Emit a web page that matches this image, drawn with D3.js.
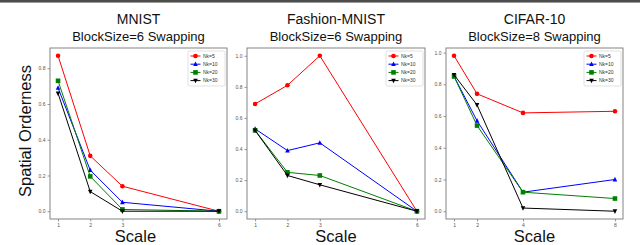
<!DOCTYPE html>
<html>
<head>
<meta charset="utf-8">
<script src="https://cdn.jsdelivr.net/npm/d3@7"></script>
<style>
  body { margin: 0; background: #fff; }
  svg { display: block; font-family: "Liberation Sans", Arial, sans-serif; }
</style>
</head>
<body>
<div id="chart"></div>
<script>
// data
let seriesNames = ["Nk=5", "Nk=10", "Nk=20", "Nk=30"];
let seriesColors = ["#ff0000", "#0000ff", "#008000", "#000000"];
let seriesMarkers = ["circle", "triUp", "square", "triDown"];

let mnistTitle = "MNIST";
let mnistSub = "BlockSize=6 Swapping";
let mnistX = [1, 2, 3, 6];
let mnistNk5 = [0.87, 0.31, 0.14, 0.0];
let mnistNk10 = [0.69, 0.23, 0.05, 0.0];
let mnistNk20 = [0.73, 0.195, 0.01, 0.0];
let mnistNk30 = [0.66, 0.11, 0.0, 0.0];
let mnistYTicks = [0.0, 0.2, 0.4, 0.6, 0.8];

let fashionTitle = "Fashion-MNIST";
let fashionSub = "BlockSize=6 Swapping";
let fashionX = [1, 2, 3, 6];
let fashionNk5 = [0.69, 0.81, 1.0, 0.0];
let fashionNk10 = [0.53, 0.39, 0.44, 0.0];
let fashionNk20 = [0.52, 0.25, 0.23, 0.0];
let fashionNk30 = [0.52, 0.23, 0.17, 0.0];
let fashionYTicks = [0.0, 0.2, 0.4, 0.6, 0.8, 1.0];

let cifarTitle = "CIFAR-10";
let cifarSub = "BlockSize=8 Swapping";
let cifarX = [1, 2, 4, 8];
let cifarNk5 = [0.98, 0.74, 0.62, 0.63];
let cifarNk10 = [0.85, 0.57, 0.12, 0.20];
let cifarNk20 = [0.85, 0.54, 0.12, 0.08];
let cifarNk30 = [0.86, 0.67, 0.02, 0.0];
let cifarYTicks = [0.0, 0.2, 0.4, 0.6, 0.8, 1.0];

let panels = [
  { title: mnistTitle, sub: mnistSub, x: mnistX, ys: [mnistNk5, mnistNk10, mnistNk20, mnistNk30], yTicks: mnistYTicks, left: 50, right: 227 },
  { title: fashionTitle, sub: fashionSub, x: fashionX, ys: [fashionNk5, fashionNk10, fashionNk20, fashionNk30], yTicks: fashionYTicks, left: 247, right: 425 },
  { title: cifarTitle, sub: cifarSub, x: cifarX, ys: [cifarNk5, cifarNk10, cifarNk20, cifarNk30], yTicks: cifarYTicks, left: 446, right: 623 }
];

let W = 640, H = 245;
let plotTop = 48, plotBottom = 219;

let svg = d3.select("#chart").append("svg")
  .attr("width", W)
  .attr("height", H);

// dark strip along the top edge
svg.append("rect").attr("x", 0).attr("y", 0).attr("width", W).attr("height", 2).attr("fill", "#4d4d4d");
svg.append("rect").attr("x", 0).attr("y", 2).attr("width", W).attr("height", 1).attr("fill", "#9a9a9a");

/**
 * Draw one marker shape.
 */
function marker(g, kind, cx, cy, color) {
  let s = 2.3;
  if (kind === "circle") {
    g.append("circle").attr("cx", cx).attr("cy", cy).attr("r", s).attr("fill", color);
  } else if (kind === "square") {
    g.append("rect").attr("x", cx - s).attr("y", cy - s).attr("width", 2 * s).attr("height", 2 * s).attr("fill", color);
  } else if (kind === "triUp") {
    g.append("path").attr("d", `M${cx},${cy - s - 0.4}L${cx + s},${cy + s - 0.4}L${cx - s},${cy + s - 0.4}Z`).attr("fill", color);
  } else {
    g.append("path").attr("d", `M${cx},${cy + s + 0.4}L${cx + s},${cy - s + 0.4}L${cx - s},${cy - s + 0.4}Z`).attr("fill", color);
  }
}

panels.forEach((p, pi) => {
  let xMin = d3.min(p.x), xMax = d3.max(p.x);
  let xPad = (xMax - xMin) * 0.05;
  let allY = p.ys.flat();
  let yMin = d3.min(allY), yMax = d3.max(allY);
  let yPad = (yMax - yMin) * 0.05;

  let x = d3.scaleLinear().domain([xMin - xPad, xMax + xPad]).range([p.left, p.right]);
  let y = d3.scaleLinear().domain([yMin - yPad, yMax + yPad]).range([plotBottom, plotTop]);

  let g = svg.append("g");

  // axes
  let xAxis = d3.axisBottom(x).tickValues(p.x).tickFormat(d3.format("d")).tickSizeInner(2.5).tickSizeOuter(0).tickPadding(2);
  let yAxis = d3.axisLeft(y).tickValues(p.yTicks).tickFormat(d3.format(".1f")).tickSizeInner(2.5).tickSizeOuter(0).tickPadding(2);
  let gx = g.append("g").attr("transform", `translate(0,${plotBottom})`).call(xAxis);
  let gy = g.append("g").attr("transform", `translate(${p.left},0)`).call(yAxis);
  [gx, gy].forEach(a => {
    a.select(".domain").remove();
    a.selectAll("line").attr("stroke", "#555").attr("stroke-width", 0.6);
    a.selectAll("text").attr("fill", "#555").style("font-size", "5px");
  });

  // frame
  g.append("rect")
    .attr("x", p.left).attr("y", plotTop)
    .attr("width", p.right - p.left).attr("height", plotBottom - plotTop)
    .attr("fill", "none").attr("stroke", "#777").attr("stroke-width", 0.9);

  // lines
  let line = d3.line().x((d, i) => x(p.x[i])).y(d => y(d));
  p.ys.forEach((vals, si) => {
    g.append("path").datum(vals)
      .attr("d", line)
      .attr("fill", "none")
      .attr("stroke", seriesColors[si])
      .attr("stroke-width", 1);
    vals.forEach((v, i) => marker(g, seriesMarkers[si], x(p.x[i]), y(v), seriesColors[si]));
  });

  // legend
  let lg = g.append("g").attr("transform", `translate(${p.right - 39},${plotTop + 3})`);
  lg.append("rect").attr("x", 0).attr("y", 0).attr("width", 37).attr("height", 35)
    .attr("rx", 1.5).attr("fill", "#fff").attr("stroke", "#ccc").attr("stroke-width", 0.6);
  seriesNames.forEach((n, si) => {
    let ly = 5 + si * 8.2;
    lg.append("line").attr("x1", 2.5).attr("x2", 12.5).attr("y1", ly).attr("y2", ly)
      .attr("stroke", seriesColors[si]).attr("stroke-width", 1);
    marker(lg, seriesMarkers[si], 7.5, ly, seriesColors[si]);
    lg.append("text").attr("x", 15).attr("y", ly + 1.8).text(n)
      .style("font-size", "5px").attr("fill", "#333");
  });

  // titles
  let cx = (p.left + p.right) / 2;
  g.append("text").attr("x", cx).attr("y", 24).attr("text-anchor", "middle")
    .style("font-size", "14px").attr("fill", "#111").text(p.title);
  g.append("text").attr("x", cx).attr("y", 41).attr("text-anchor", "middle")
    .style("font-size", "13px").attr("fill", "#111").text(p.sub);

  // x label
  g.append("text").attr("x", cx - (pi === 0 ? 3 : 0)).attr("y", 242).attr("text-anchor", "middle")
    .style("font-size", "16.5px").attr("fill", "#111").text("Scale");
});

// y label on first panel only
svg.append("text")
  .attr("transform", `translate(31,131) rotate(-90)`)
  .attr("text-anchor", "middle")
  .style("font-size", "16.5px").attr("fill", "#111")
  .text("Spatial Orderness");
</script>
</body>
</html>
